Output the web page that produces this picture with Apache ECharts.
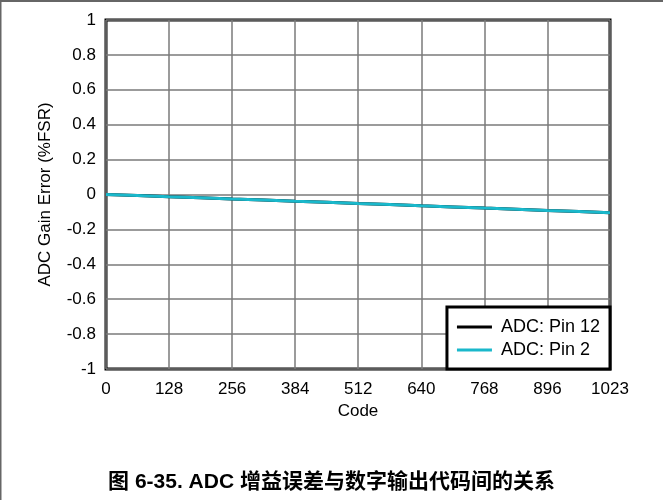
<!DOCTYPE html>
<html>
<head>
<meta charset="utf-8">
<script src="https://cdn.jsdelivr.net/npm/echarts@6/dist/echarts.min.js"></script>
<style>
html,body{margin:0;padding:0;background:#fff;}
#chart{width:663px;height:500px;}
</style>
</head>
<body>
<div id="chart"></div>
<script>
// Data
var codes = [0, 64, 128, 192, 256, 320, 384, 448, 512, 576, 640, 704, 768, 832, 896, 960, 1023];
var pin12 = [0, -0.006, -0.013, -0.019, -0.026, -0.032, -0.039, -0.045, -0.052, -0.058, -0.065, -0.071, -0.078, -0.084, -0.091, -0.097, -0.104];
var pin2  = [0, -0.006, -0.013, -0.019, -0.026, -0.032, -0.039, -0.045, -0.052, -0.058, -0.065, -0.071, -0.078, -0.084, -0.091, -0.097, -0.104];
var seriesNames = ['ADC: Pin 12', 'ADC: Pin 2'];
var xName = 'Code';
var yName = 'ADC Gain Error (%FSR)';
var titleText = '图 6-35. ADC 增益误差与数字输出代码间的关系';

function pairs(xs, ys){ return xs.map(function(x,i){ return [x, ys[i]]; }); }

var font = "'Liberation Sans', Arial, sans-serif";
var chart = echarts.init(document.getElementById('chart'), null, {renderer:'canvas'});
chart.setOption({
  animation: false,
  backgroundColor: '#fff',
  title: {
    text: titleText,
    left: 'center',
    top: 467,
    textStyle: {fontFamily: "'Liberation Sans', 'Noto Sans CJK SC', sans-serif", fontWeight: 'bold', fontSize: 21, color: '#000'}
  },
  grid: {
    left: 106, right: 53, top: 20, bottom: 131,
    show: true, borderColor: '#000', borderWidth: 3, backgroundColor: 'transparent'
  },
  legend: {
    right: 53, bottom: 131,
    orient: 'vertical',
    backgroundColor: '#fff',
    borderColor: '#000',
    borderWidth: 3,
    borderRadius: 0,
    padding: [11, 10, 10, 10],
    itemGap: 5,
    itemWidth: 35,
    itemHeight: 3,
    icon: 'rect',
    textStyle: {fontFamily: font, fontSize: 18, color: '#000', padding: [0, 0, 0, 4]},
    data: seriesNames
  },
  xAxis: {
    type: 'value',
    min: 0, max: 1023, interval: 128,
    name: xName, nameLocation: 'middle', nameGap: 31,
    nameTextStyle: {fontFamily: font, fontSize: 17, color: '#000'},
    axisLine: {show: false},
    axisTick: {show: false},
    axisLabel: {fontFamily: font, fontSize: 17, color: '#000', margin: 12, showMaxLabel: true,
      formatter: function(v){ return String(v); }},
    splitLine: {show: true, lineStyle: {color: '#7a7a7a', width: 1.5}}
  },
  yAxis: {
    type: 'value',
    min: -1, max: 1, interval: 0.2,
    name: yName, nameLocation: 'middle', nameGap: 52,
    nameTextStyle: {fontFamily: font, fontSize: 17, color: '#000'},
    axisLine: {show: false},
    axisTick: {show: false},
    axisLabel: {fontFamily: font, fontSize: 17, color: '#000', margin: 10},
    splitLine: {show: true, lineStyle: {color: '#7a7a7a', width: 1.5}}
  },
  graphic: [
    {type: 'line', shape: {x1: 0, y1: 1, x2: 663, y2: 1}, style: {stroke: '#333', lineWidth: 1.5}, silent: true},
    {type: 'line', shape: {x1: 0.75, y1: 0, x2: 0.75, y2: 500}, style: {stroke: '#666', lineWidth: 1.5}, silent: true}
  ],
  series: [
    {name: seriesNames[0], type: 'line', data: pairs(codes, pin12), showSymbol: false, symbol: 'none',
     lineStyle: {color: '#000', width: 3}, itemStyle: {color: '#000'}, z: 2},
    {name: seriesNames[1], type: 'line', data: pairs(codes, pin2), showSymbol: false, symbol: 'none',
     lineStyle: {color: '#1ab8cb', width: 3}, itemStyle: {color: '#1ab8cb'}, z: 3}
  ]
});
</script>
</body>
</html>
